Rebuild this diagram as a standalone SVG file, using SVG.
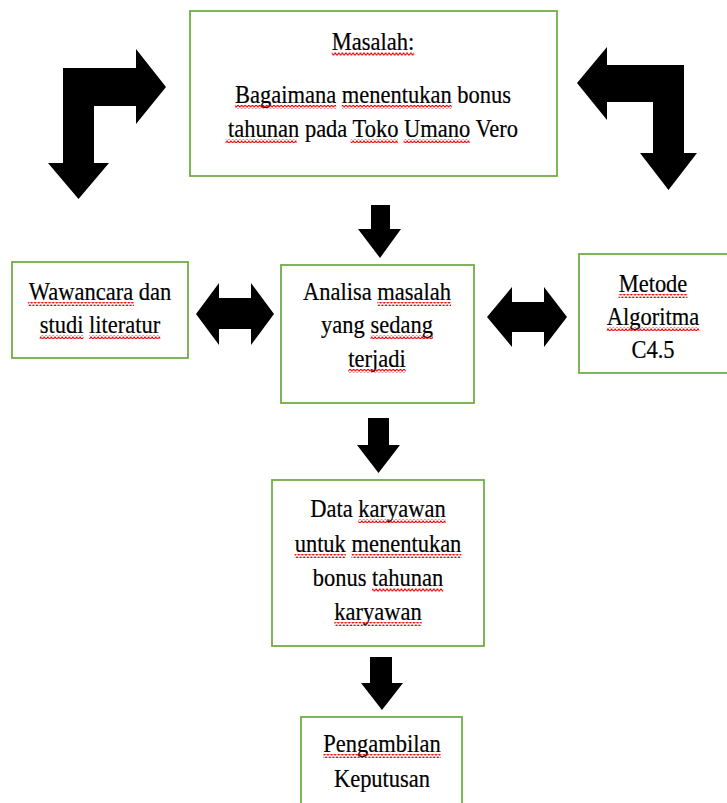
<svg xmlns="http://www.w3.org/2000/svg" width="727" height="803" viewBox="0 0 727 803">
<style>
.box{fill:#fff;stroke:#70AD47;stroke-width:1.8}
.arrow{fill:#000}
.t{font-family:"Liberation Serif","Times New Roman",serif;font-size:25px;fill:#000;text-anchor:middle;stroke:#000;stroke-width:0.2}
.sq{fill:url(#wave)}
</style>
<defs>
<pattern id="wave" patternUnits="userSpaceOnUse" width="4" height="4">
<path d="M0 3.3 L2 0.9 L4 3.3" fill="none" stroke="#E00000" stroke-width="1.1"/>
</pattern>
</defs>
<rect width="727" height="803" fill="#fff"/>
<g id="connectors">
<polygon class="arrow" points="78.5,199 48,163 63,163 63,68 136,68 136,49 166,87 136,124 136,106 94,106 94,163 109,163"/>
<polygon class="arrow" points="577,83 607,47 607,65 684,65 684,153 697,153 668.5,190 640,153 653,153 653,102 607,102 607,120"/>
<polygon class="arrow" points="371,205 390,205 390,229 401,229 380,258 358,229 371,229"/>
<polygon class="arrow" points="368,418 389,418 389,445 400,445 378.5,473 357,445 368,445"/>
<polygon class="arrow" points="370,657 392,657 392,683 403,683 382,710 361,683 370,683"/>
<polygon class="arrow" points="196,314 219,283 219,298 251,298 251,283 274,314 251,345 251,329 219,329 219,345"/>
<polygon class="arrow" points="487,317 512,287 512,302 544,302 544,287 567,317 544,347 544,332 512,332 512,347"/>
</g>
<g id="node-masalah">
<rect class="box" x="190" y="11" width="367" height="165"/>
<g transform="translate(373,0) scale(0.9,1)">
<text class="t" x="0" y="50">Masalah:</text>
<text class="t" x="0" y="103">Bagaimana menentukan bonus</text>
<text class="t" x="0" y="137">tahunan pada Toko Umano Vero</text>
<rect class="sq" x="-45.8" y="52" width="91.6" height="4"/>
<rect class="sq" x="-153.4" y="105" width="112.5" height="4"/>
<rect class="sq" x="-34.7" y="105" width="122.2" height="4"/>
<rect class="sq" x="-163.8" y="139" width="79.1" height="4"/>
<rect class="sq" x="-25" y="139" width="52.8" height="4"/>
<rect class="sq" x="34" y="139" width="73.6" height="4"/>
</g>
</g>
<g id="node-wawancara">
<rect class="box" x="12" y="262" width="176" height="96"/>
<g transform="translate(100,0) scale(0.9,1)">
<text class="t" x="0" y="300">Wawancara dan</text>
<text class="t" x="0" y="333">studi literatur</text>
<rect class="sq" x="-80.2" y="302" width="118" height="4"/>
<rect class="sq" x="-67" y="335" width="48.6" height="4"/>
<rect class="sq" x="-12.1" y="335" width="79.1" height="4"/>
</g>
</g>
<g id="node-analisa">
<rect class="box" x="281" y="265" width="193" height="138"/>
<g transform="translate(377,0) scale(0.9,1)">
<text class="t" x="0" y="300">Analisa masalah</text>
<text class="t" x="0" y="333">yang sedang</text>
<text class="t" x="0" y="367">terjadi</text>
<rect class="sq" x="0.4" y="302" width="81.9" height="4"/>
<rect class="sq" x="-7.2" y="335" width="69.3" height="4"/>
<rect class="sq" x="-31.9" y="369" width="63.8" height="4"/>
</g>
</g>
<g id="node-metode">
<rect class="box" x="579" y="254" width="152" height="119"/>
<g transform="translate(653,0) scale(0.9,1)">
<text class="t" x="0" y="292">Metode</text>
<text class="t" x="0" y="325">Algoritma</text>
<text class="t" x="0" y="358">C4.5</text>
<rect class="sq" x="-38.2" y="294" width="76.4" height="4"/>
<rect class="sq" x="-51.4" y="327" width="102.8" height="4"/>
</g>
</g>
<g id="node-data">
<rect class="box" x="272" y="480" width="212" height="166"/>
<g transform="translate(378,0) scale(0.9,1)">
<text class="t" x="0" y="517">Data karyawan</text>
<text class="t" x="0" y="552">untuk menentukan</text>
<text class="t" x="0" y="586">bonus tahunan</text>
<text class="t" x="0" y="620">karyawan</text>
<rect class="sq" x="-21.8" y="519" width="97.1" height="4"/>
<rect class="sq" x="-92.7" y="554" width="57" height="4"/>
<rect class="sq" x="-29.5" y="554" width="122.2" height="4"/>
<rect class="sq" x="-6.6" y="588" width="79.2" height="4"/>
<rect class="sq" x="-48.6" y="622" width="97.2" height="4"/>
</g>
</g>
<g id="node-pengambilan">
<rect class="box" x="301" y="717" width="161" height="100"/>
<g transform="translate(382,0) scale(0.9,1)">
<text class="t" x="0" y="752">Pengambilan</text>
<text class="t" x="0" y="787">Keputusan</text>
<rect class="sq" x="-65.3" y="754" width="130.6" height="4"/>
</g>
</g>
</svg>
